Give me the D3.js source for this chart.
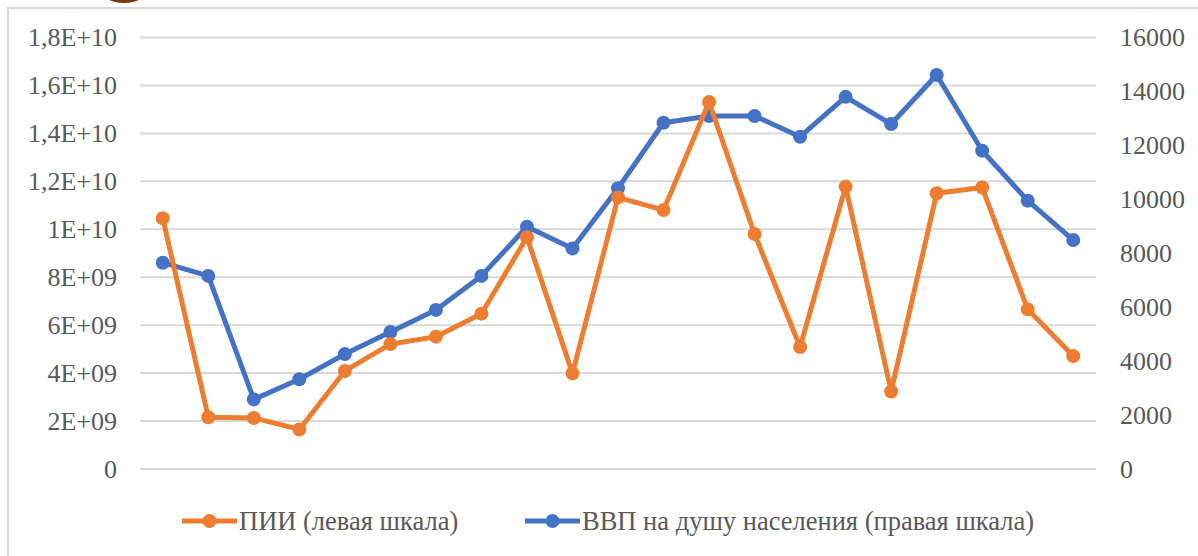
<html lang="ru">
  <head>
    <meta charset="utf-8">
    <title>ПИИ и ВВП</title>
    <script src="https://d3js.org/d3.v7.min.js"></script>
    <style>
      body { margin: 0; background: #fff; }
      .grid line { stroke: #d9d9d9; stroke-width: 2; }
    </style>
  </head>
  <body>
    <svg id="chart" width="1198" height="556"></svg>
    <script>
      // categories are unlabeled on the chart (21 periods)
      const categories = ['p1','p2','p3','p4','p5','p6','p7','p8','p9','p10','p11',
                          'p12','p13','p14','p15','p16','p17','p18','p19','p20','p21']

      // ПИИ, left scale
      const fdi = [10.46e9, 2.16e9, 2.13e9, 1.65e9, 4.09e9, 5.21e9, 5.52e9, 6.48e9, 9.67e9, 3.99e9, 11.33e9,
                   10.8e9, 15.31e9, 9.8e9, 5.09e9, 11.78e9, 3.23e9, 11.5e9, 11.74e9, 6.66e9, 4.71e9]

      // ВВП на душу населения, right scale
      const gdp = [7650, 7160, 2580, 3330, 4260, 5080, 5900, 7160, 8980, 8180, 10410,
                   12840, 13090, 13090, 12320, 13800, 12790, 14610, 11800, 9950, 8490]

      const leftTicks = [0, 2e9, 4e9, 6e9, 8e9, 1e10, 1.2e10, 1.4e10, 1.6e10, 1.8e10]
      const leftLabels = ['0', '2E+09', '4E+09', '6E+09', '8E+09', '1E+10', '1,2E+10', '1,4E+10', '1,6E+10', '1,8E+10']
      const rightTicks = [0, 2000, 4000, 6000, 8000, 10000, 12000, 14000, 16000]

      const legendItems = [
        { name: 'ПИИ (левая шкала)', color: '#ed7d31' },
        { name: 'ВВП на душу населения (правая шкала)', color: '#4472c4' }
      ]

      const FONT = 'Liberation Serif'

      const svg = d3.select('#chart')

      // chart frame, runs off the picture at right and bottom
      svg.append('rect')
        .attr('x', 8).attr('y', 8)
        .attr('width', 1220).attr('height', 600)
        .attr('fill', 'none')
        .attr('stroke', '#d9d9d9')
        .attr('stroke-width', 2)

      // brown blob peeking in at the top
      svg.append('ellipse')
        .attr('cx', 124).attr('cy', -14)
        .attr('rx', 26).attr('ry', 17)
        .attr('fill', '#7a3b12')

      const x = d3.scaleBand().domain(categories).range([140, 1096]).padding(0)
      const cx = d => x(d) + x.bandwidth() / 2
      const yL = d3.scaleLinear().domain([0, 1.8e10]).range([469, 37.5])
      const yR = d3.scaleLinear().domain([0, 16000]).range([469, 37.5])

      svg.append('g').attr('class', 'grid')
        .selectAll('line')
        .data(leftTicks).join('line')
        .attr('x1', 140).attr('x2', 1096)
        .attr('y1', d => yL(d)).attr('y2', d => yL(d))

      svg.append('g')
        .attr('transform', 'translate(117,0)')
        .call(d3.axisLeft(yL).tickValues(leftTicks).tickSize(0).tickPadding(0)
          .tickFormat((d, i) => leftLabels[i]))
        .call(g => g.select('.domain').remove())
        .selectAll('text')
        .style('font-family', FONT)
        .style('font-size', '26px')
        .attr('fill', '#595959')

      svg.append('g')
        .attr('transform', 'translate(1120,0)')
        .call(d3.axisRight(yR).tickValues(rightTicks).tickSize(0).tickPadding(0)
          .tickFormat(d3.format('d')))
        .call(g => g.select('.domain').remove())
        .selectAll('text')
        .style('font-family', FONT)
        .style('font-size', '26px')
        .attr('fill', '#595959')

      function drawSeries(values, yScale, color) {
        const line = d3.line()
          .x((d, i) => cx(categories[i]))
          .y(d => yScale(d))
        const g = svg.append('g')
        g.append('path')
          .datum(values)
          .attr('d', line)
          .attr('fill', 'none')
          .attr('stroke', color)
          .attr('stroke-width', 5)
          .attr('stroke-linejoin', 'round')
        g.selectAll('circle')
          .data(values).join('circle')
          .attr('cx', (d, i) => cx(categories[i]))
          .attr('cy', d => yScale(d))
          .attr('r', 7)
          .attr('fill', color)
      }

      drawSeries(gdp, yR, '#4472c4')
      drawSeries(fdi, yL, '#ed7d31')

      // legend
      const legendX = [182, 525]
      const legend = svg.append('g')
        .selectAll('g')
        .data(legendItems).join('g')
        .attr('transform', (d, i) => `translate(${legendX[i]},521)`)
      legend.append('line')
        .attr('x1', 0).attr('x2', 55)
        .attr('stroke', d => d.color)
        .attr('stroke-width', 5)
      legend.append('circle')
        .attr('cx', 27.5).attr('r', 7)
        .attr('fill', d => d.color)
      legend.append('text')
        .attr('x', 57)
        .attr('dy', '0.35em')
        .style('font-family', FONT)
        .style('font-size', '26.5px')
        .attr('fill', '#595959')
        .text(d => d.name)
    </script>
  </body>
</html>
